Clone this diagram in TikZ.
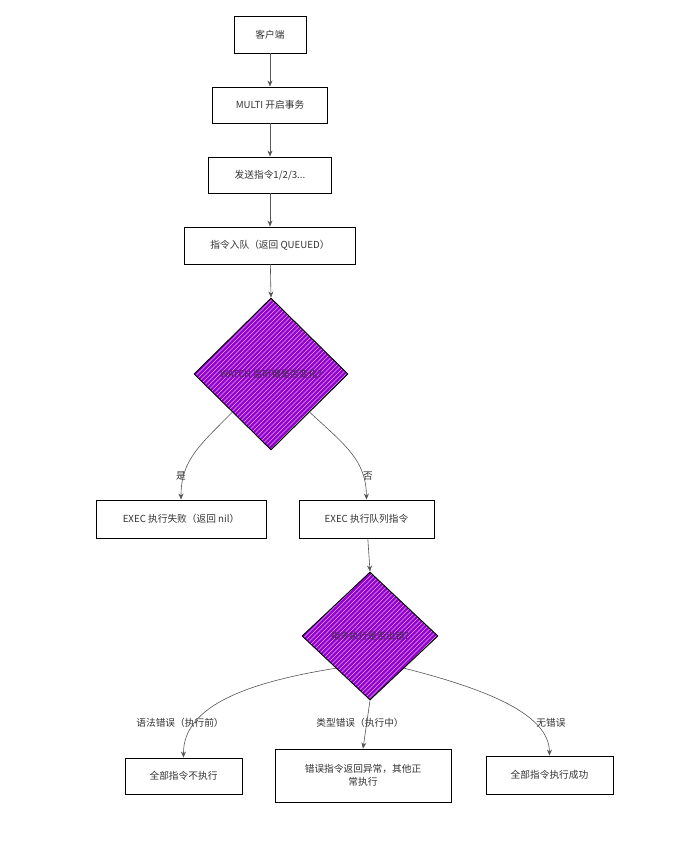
\documentclass[tikz,border=0pt]{standalone}
\usepackage{fontspec}
\setmainfont{Noto Sans CJK SC}
\usetikzlibrary{shapes.geometric,arrows.meta}
\definecolor{txt}{HTML}{333333}
\definecolor{edge}{HTML}{555555}
\definecolor{dfill}{HTML}{9400CC}
\tikzset{
  box/.style={draw=black, line width=0.9pt, fill=white, minimum height=36pt, align=center, text=txt, font=\fontsize{9.7}{13}\selectfont, inner sep=2pt},
  hatch/.style={path picture={
      \foreach \i in {-240,-235.5,...,240}
        \draw[white!65!dfill, line width=0.45pt]
          ([xshift=\i pt]path picture bounding box.center) ++(-120pt,-120pt) -- ++(240pt,240pt);}},
  dec/.style={diamond, draw=black, line width=0.9pt, aspect=1, fill=dfill, hatch, text=txt!85!dfill, font=\fontsize{9.2}{11}\selectfont, inner sep=0pt},
  conn/.style={draw=edge, line width=0.6pt, -{Stealth[length=6pt,width=5pt]}},
  lbl/.style={text=txt, font=\fontsize{9.7}{12}\selectfont}
}
\begin{document}
\begin{tikzpicture}[x=1pt,y=-1pt]
\useasboundingbox (0,0) rectangle (674,859);
\node[box, minimum width=72pt, minimum height=37pt] (client) at (270,34.5) {客户端};
\node[box, minimum width=115pt] (multi) at (270,105) {MULTI 开启事务};
\node[box, minimum width=123pt] (send) at (270,175) {发送指令1/2/3...};
\node[box, minimum width=171pt, minimum height=37pt] (queue) at (270,245.5) {指令入队（返回 QUEUED）};
\node[dec, minimum width=154pt, minimum height=152pt] (watch) at (271,374) {WATCH 监听键是否变化?};
\node[box, minimum width=170pt, minimum height=38pt] (fail) at (181,519) {EXEC 执行失败（返回 nil）};
\node[box, minimum width=135pt, minimum height=38pt] (exec) at (366.5,519) {EXEC 执行队列指令};
\node[dec, minimum width=136pt, minimum height=128pt] (err) at (370,636) {指令执行是否出错?};
\node[box, minimum width=117pt] (none) at (183.5,776) {全部指令不执行};
\node[box, minimum width=176pt, minimum height=53pt] (part) at (363,775.5) {错误指令返回异常，其他正\\常执行};
\node[box, minimum width=127pt, minimum height=38pt] (ok) at (549.5,775) {全部指令执行成功};

\draw[conn] (client) -- (multi);
\draw[conn] (multi) -- (send);
\draw[conn] (send) -- (queue);
\draw[conn] (queue) -- (watch.north);
\draw[conn] (watch.south west) .. controls (200,445) and (181,460) .. (fail.north);
\draw[conn] (watch.south east) .. controls (345,445) and (366,460) .. (exec.north);
\draw[conn] (exec) -- (err.north);
\draw[conn] (err.south west) .. controls (250,682) and (183,705) .. (none.north);
\draw[conn] (err.south) -- (part.north);
\draw[conn] (err.south east) .. controls (490,690) and (549,715) .. (ok.north);

\node[lbl] (l1) at (181,476) {是};
\node[lbl] (l2) at (368,476) {否};
\node[lbl] (l3) at (180,723) {语法错误（执行前）};
\node[lbl] (l4) at (360,723) {类型错误（执行中）};
\node[lbl] (l5) at (551,723) {无错误};
\end{tikzpicture}
\end{document}
